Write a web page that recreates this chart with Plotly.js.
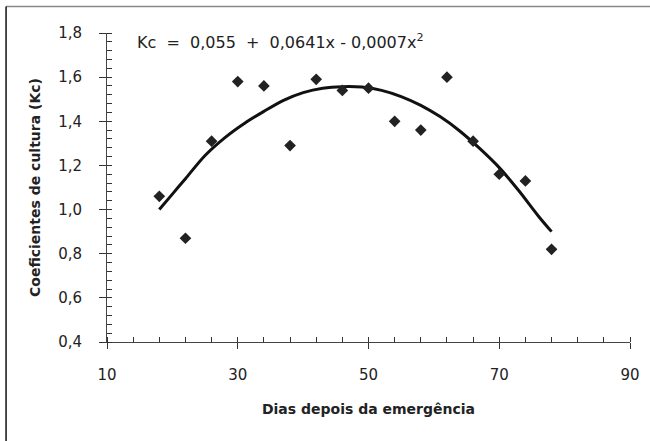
<!DOCTYPE html>
<html>
<head>
<meta charset="utf-8">
<script src="https://cdn.plot.ly/plotly-3.0.1.min.js"></script>
<style>
html,body{margin:0;padding:0;background:#fff;}
#chart{width:650px;height:441px;}
</style>
</head>
<body>
<div id="chart"></div>
<script>
// Observed data (days after emergence, crop coefficient)
const days = [18, 22, 26, 30, 34, 38, 42, 46, 50, 54, 58, 62, 66, 70, 74, 78];
const kc = [1.06, 0.87, 1.31, 1.58, 1.56, 1.29, 1.59, 1.54, 1.55, 1.40, 1.36, 1.60, 1.31, 1.16, 1.13, 0.82];

// Fitted curve
const curveDays = [18, 20, 22, 25, 28, 31, 34, 37, 40, 43, 46, 49, 52, 55, 58, 61, 64, 67, 70, 73, 76, 78];
const curveKc = [1.00, 1.07, 1.14, 1.245, 1.325, 1.39, 1.445, 1.495, 1.53, 1.55, 1.557, 1.555, 1.54, 1.512, 1.472, 1.42, 1.355, 1.277, 1.19, 1.085, 0.97, 0.90];

const xTickVals = [10, 30, 50, 70, 90];
const xTickText = ['10', '30', '50', '70', '90'];
const yTickVals = [0.4, 0.6, 0.8, 1.0, 1.2, 1.4, 1.6, 1.8];
const yTickText = ['0,4', '0,6', '0,8', '1,0', '1,2', '1,4', '1,6', '1,8'];

const equationText = 'Kc  =  0,055  +  0,0641x - 0,0007x<sup>2</sup>';
const xTitle = 'Dias depois da emergência';
const yTitle = 'Coeficientes de cultura (Kc)';

const FONT = 'DejaVu Sans, Liberation Sans, Arial, sans-serif';

const traces = [
  {
    x: curveDays, y: curveKc, type: 'scatter', mode: 'lines',
    line: {color: '#111', width: 3, shape: 'spline', smoothing: 0.8},
    hoverinfo: 'skip', showlegend: false
  },
  {
    x: days, y: kc, type: 'scatter', mode: 'markers',
    marker: {symbol: 'diamond', size: 9, color: '#222'},
    showlegend: false
  }
];

const axisCommon = {
  showgrid: false, zeroline: false, showline: true,
  linecolor: '#444', linewidth: 1, tickcolor: '#333', tickwidth: 1,
  tickfont: {family: FONT, size: 15, color: '#222'}
};

const layout = {
  width: 650, height: 441,
  margin: {l: 107, r: 20, t: 33, b: 99},
  paper_bgcolor: '#fff', plot_bgcolor: '#fff',
  font: {family: FONT, color: '#222'},
  xaxis: Object.assign({}, axisCommon, {
    range: [10, 90], tickmode: 'array', tickvals: xTickVals, ticktext: xTickText,
    ticks: 'outside', ticklen: 6, ticklabelstandoff: 13,
    minor: {dtick: 4, tick0: 10, ticks: 'inside', ticklen: 5, tickcolor: '#333', tickwidth: 1},
    title: {text: xTitle, font: {family: FONT, size: 14, color: '#222', weight: 'bold'}, standoff: 21}
  }),
  yaxis: Object.assign({}, axisCommon, {
    range: [0.4, 1.8], tickmode: 'array', tickvals: yTickVals, ticktext: yTickText,
    ticks: 'outside', ticklen: 7, ticklabelstandoff: 14,
    minor: {dtick: 0.04, tick0: 0.4, ticks: 'inside', ticklen: 5, tickcolor: '#333', tickwidth: 1},
    title: {text: yTitle, font: {family: FONT, size: 14, color: '#222', weight: 'bold'}, standoff: 14}
  }),
  xaxis2: {
    overlaying: 'x', anchor: 'y', side: 'bottom', range: [10, 90],
    tickmode: 'array', tickvals: xTickVals, ticks: 'inside', ticklen: 5,
    tickcolor: '#333', tickwidth: 1, showticklabels: false, showgrid: false,
    zeroline: false, showline: false
  },
  yaxis2: {
    overlaying: 'y', anchor: 'x', side: 'left', range: [0.4, 1.8],
    tickmode: 'array', tickvals: yTickVals, ticks: 'inside', ticklen: 5,
    tickcolor: '#333', tickwidth: 1, showticklabels: false, showgrid: false,
    zeroline: false, showline: false
  },
  annotations: [
    {
      xref: 'paper', yref: 'paper', x: 0.0535, y: 0.971,
      xanchor: 'left', yanchor: 'middle', showarrow: false,
      text: equationText, font: {family: FONT, size: 16, color: '#222'}
    }
  ],
  shapes: [
    {type: 'line', xref: 'paper', yref: 'paper', x0: -0.193, x1: 1.05, y0: 1.0858, y1: 1.0858,
     line: {color: '#888', width: 1.5}},
    {type: 'line', xref: 'paper', yref: 'paper', x0: -0.193, x1: -0.193, y0: 1.0858, y1: -0.35,
     line: {color: '#111', width: 1.5}}
  ]
};

Plotly.newPlot('chart', traces, layout, {displayModeBar: false, staticPlot: true});
</script>
</body>
</html>
